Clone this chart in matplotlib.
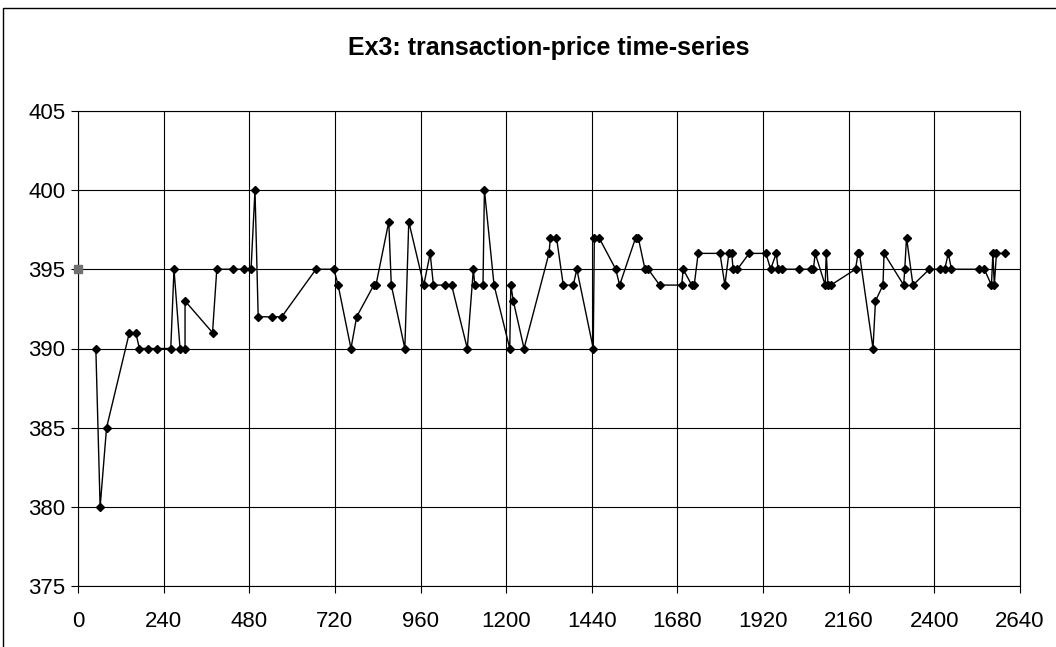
import matplotlib.pyplot as plt
from matplotlib.patches import Rectangle

# transaction times and prices
times = [50, 62, 80, 144, 162, 172, 195, 220, 260, 269, 286, 300, 300, 377, 389,
         434, 464, 485, 496, 505, 544, 571, 667, 717, 729, 765, 781, 829, 835, 871,
         878, 916, 927, 969, 987, 996, 1029, 1047, 1091, 1108, 1112, 1135, 1139, 1166,
         1210, 1213, 1220, 1250, 1320, 1324, 1341, 1360, 1388, 1398, 1444, 1447, 1460,
         1507, 1518, 1563, 1570, 1589, 1598, 1630, 1692, 1696, 1720, 1727, 1738, 1799,
         1813, 1824, 1832, 1836, 1848, 1881, 1928, 1941, 1957, 1962, 1972, 2021, 2055,
         2061, 2066, 2094, 2097, 2102, 2110, 2179, 2186, 2190, 2228, 2235, 2256, 2259,
         2314, 2317, 2322, 2340, 2386, 2416, 2429, 2439, 2448, 2525, 2540, 2560, 2564,
         2568, 2574, 2597]
prices = [390, 380, 385, 391, 391, 390, 390, 390, 390, 395, 390, 390, 393, 391, 395,
          395, 395, 395, 400, 392, 392, 392, 395, 395, 394, 390, 392, 394, 394, 398,
          394, 390, 398, 394, 396, 394, 394, 394, 390, 395, 394, 394, 400, 394,
          390, 394, 393, 390, 396, 397, 397, 394, 394, 395, 390, 397, 397,
          395, 394, 397, 397, 395, 395, 394, 394, 395, 394, 394, 396, 396,
          394, 396, 396, 395, 395, 396, 396, 395, 396, 395, 395, 395, 395,
          395, 396, 394, 396, 394, 394, 395, 396, 396, 390, 393, 394, 396,
          394, 395, 397, 394, 395, 395, 395, 396, 395, 395, 395, 394, 396,
          394, 396, 396]

# equilibrium price marker
eq_time = [0]
eq_price = [395]

fig = plt.figure(figsize=(10.56, 6.47), dpi=100)
plt.rcParams['font.family'] = ['Liberation Sans', 'DejaVu Sans']
ax = fig.add_axes([78/1056, 1 - 586.3/647, (1020 - 78)/1056, (586.3 - 110.7)/647])

# chart frame (cropped on right and bottom)
fig.patches.append(Rectangle((3/1056, -0.1), 1.2, 1 - 8/647 + 0.1, transform=fig.transFigure,
                             fill=False, edgecolor='black', linewidth=1.0))

ax.plot(eq_time, eq_price, linestyle='none', marker='s', markersize=6, color='#707070',
        clip_on=False, zorder=4)
ax.plot(times, prices, color='black', linewidth=1.0, marker='D', markersize=4.5, zorder=3)

ax.set_xlim(0, 2640)
ax.set_ylim(375, 405)
ax.set_xticks(range(0, 2641, 240))
ax.set_yticks(range(375, 406, 5))
ax.grid(True, color='black', linewidth=0.8)
ax.set_axisbelow(True)
for s in ax.spines.values():
    s.set_color('black')
    s.set_linewidth(0.8)
ax.tick_params(direction='out', length=5, width=0.8, labelsize=16, colors='black')
ax.tick_params(axis='x', pad=13)
ax.tick_params(axis='y', pad=4)

fig.text(549/1056, 1 - 48/647, "Ex3: transaction-price time-series", ha='center', va='center',
         fontsize=18, fontweight='bold')

fig.savefig("out.png", dpi=100)
